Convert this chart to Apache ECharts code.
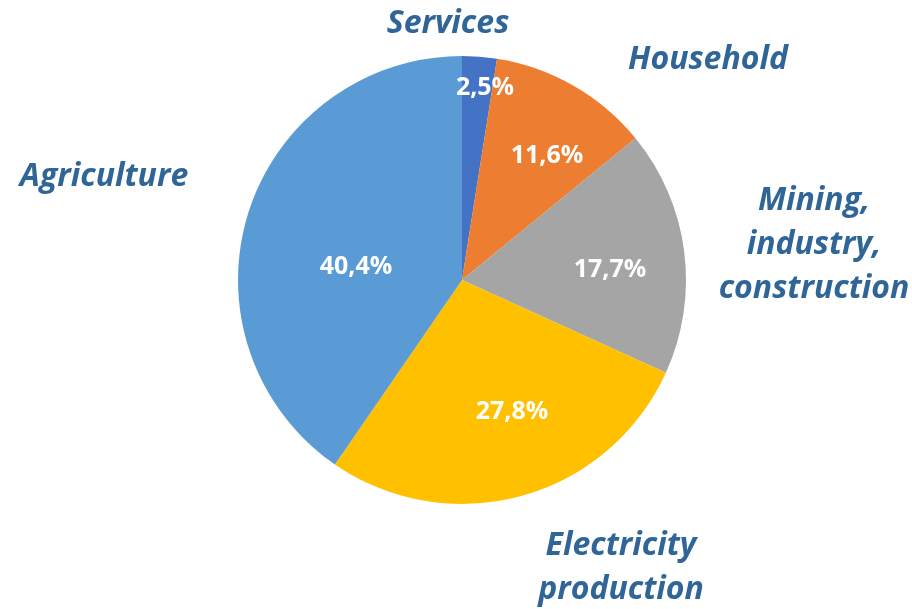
<!DOCTYPE html>
<html><head><meta charset="utf-8">
<script src="https://cdn.jsdelivr.net/npm/echarts@6/dist/echarts.min.js"></script>
<style>html,body{margin:0;padding:0;background:#fff}#c{width:912px;height:609px}</style>
</head><body><div id="c"></div>
<script>
const categories = ['Services', 'Household', 'Mining, industry, construction', 'Electricity production', 'Agriculture'];
const categoryLabels = ['Services', 'Household', 'Mining,\nindustry,\nconstruction', 'Electricity\nproduction', 'Agriculture'];
const values = [2.5, 11.6, 17.7, 27.8, 40.4];
const colors = ['#4472C4', '#ED7D31', '#A5A5A5', '#FFC000', '#5B9BD5'];
// label anchor positions (layout only)
const innerPos = [[485, 88], [547, 156], [610, 270], [512, 412], [356, 267]];
const outerPos = [[448, 24], [708, 60], [814, 245], [621, 568], [104, 177]];

const chart = echarts.init(document.getElementById('c'), null, {renderer: 'canvas'});
const pieData = categories.map((c, i) => ({name: c, value: values[i], itemStyle: {color: colors[i]}}));
const ghostData = categories.map((c, i) => ({name: c, value: values[i]}));

chart.setOption({
  animation: false,
  backgroundColor: '#ffffff',
  series: [
    {
      type: 'pie',
      center: [462, 280],
      radius: 224,
      startAngle: 90,
      clockwise: true,
      silent: true,
      itemStyle: {borderWidth: 0},
      label: {
        show: true,
        position: 'inside',
        formatter: p => p.value.toFixed(1).replace('.', ',') + '%',
        color: '#ffffff',
        fontFamily: 'Open Sans',
        fontWeight: 'bold',
        fontSize: 25
      },
      labelLine: {show: false},
      labelLayout: p => ({x: innerPos[p.dataIndex][0], y: innerPos[p.dataIndex][1], align: 'center', verticalAlign: 'middle'}),
      data: pieData
    },
    {
      type: 'pie',
      center: [462, 280],
      radius: 224,
      startAngle: 90,
      clockwise: true,
      silent: true,
      itemStyle: {color: 'rgba(0,0,0,0)', borderWidth: 0},
      label: {
        show: true,
        position: 'outside',
        formatter: p => categoryLabels[p.dataIndex],
        color: '#2F6597',
        fontFamily: 'Open Sans',
        fontWeight: 'bold',
        fontStyle: 'italic',
        fontSize: 32,
        lineHeight: 44,
        align: 'center',
        overflow: 'none',
        width: 300
      },
      labelLine: {show: false},
      labelLayout: p => ({x: outerPos[p.dataIndex][0], y: outerPos[p.dataIndex][1], align: 'center', verticalAlign: 'middle'}),
      data: ghostData
    }
  ]
});
</script>
</body></html>
